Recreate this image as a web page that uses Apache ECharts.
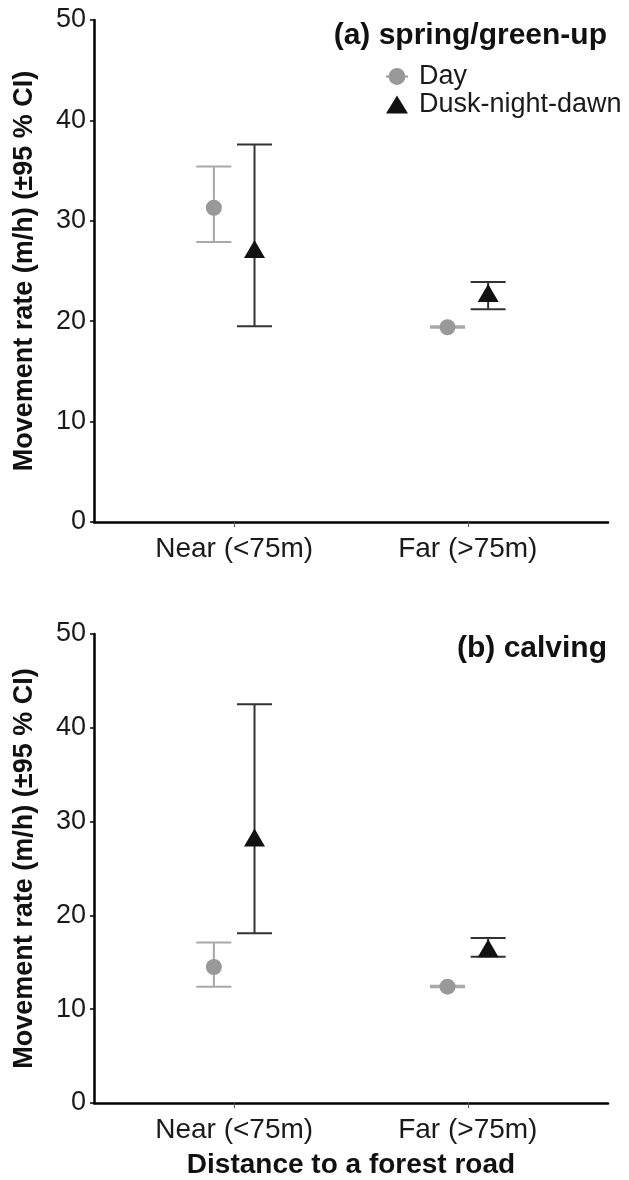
<!DOCTYPE html>
<html>
<head>
<meta charset="utf-8">
<script src="https://cdn.jsdelivr.net/npm/echarts@6/dist/echarts.min.js"></script>
<style>
  html, body { margin: 0; padding: 0; background: #fff; }
  #chart { width: 629px; height: 1180px; }
</style>
</head>
<body>
<div id="chart"></div>
<script>
const categories = ['Near (<75m)', 'Far (>75m)'];
const yTicks = [0, 10, 20, 30, 40, 50];

// (a) spring/green-up
const springDayMean = [31.3, 19.4];
const springDayLow = [27.9, 19.35];
const springDayHigh = [35.4, 19.5];
const springDuskMean = [27.2, 22.8];
const springDuskLow = [19.5, 21.2];
const springDuskHigh = [37.6, 23.9];

// (b) calving
const calvingDayMean = [14.5, 12.4];
const calvingDayLow = [12.4, 12.35];
const calvingDayHigh = [17.1, 12.5];
const calvingDuskMean = [28.3, 16.5];
const calvingDuskLow = [18.1, 15.6];
const calvingDuskHigh = [42.5, 17.6];

const FONT = 'Liberation Sans, Arial, sans-serif';
const DODGE = 0.087;
const dayColor = '#999999';
const dayBarColor = '#a8a8a8';
const duskColor = '#111111';
const duskBarColor = '#333333';

const chart = echarts.init(document.getElementById('chart'));

function errorBars(axis, offset, low, high, color) {
  return {
    type: 'custom',
    xAxisIndex: axis,
    yAxisIndex: axis,
    silent: true,
    z: 1,
    data: low.map((l, i) => [i + 1 + offset, l, high[i]]),
    encode: { x: 0, y: [1, 2] },
    renderItem: (params, api) => {
      const x = api.value(0);
      const lo = api.coord([x, api.value(1)]);
      const hi = api.coord([x, api.value(2)]);
      const half = 17.5;
      const style = { stroke: color, lineWidth: 2 };
      return {
        type: 'group',
        children: [
          { type: 'line', shape: { x1: lo[0], y1: lo[1], x2: hi[0], y2: hi[1] }, style },
          { type: 'line', shape: { x1: lo[0] - half, y1: lo[1], x2: lo[0] + half, y2: lo[1] }, style },
          { type: 'line', shape: { x1: hi[0] - half, y1: hi[1], x2: hi[0] + half, y2: hi[1] }, style },
        ],
      };
    },
  };
}

function points(name, axis, offset, means, symbol, size, color) {
  return {
    name,
    type: 'scatter',
    xAxisIndex: axis,
    yAxisIndex: axis,
    symbol,
    symbolSize: size,
    z: 3,
    itemStyle: { color, opacity: 1 },
    data: means.map((m, i) => [i + 1 + offset, m]),
  };
}

function xAxis(grid, withName) {
  return {
    type: 'value',
    gridIndex: grid,
    min: 0.4,
    max: 2.6,
    splitLine: { show: false },
    axisLine: { lineStyle: { color: '#000', width: 2.5 } },
    axisTick: { customValues: [1, 2], length: 5, lineStyle: { color: '#555', width: 1 } },
    axisLabel: {
      customValues: [1, 2],
      formatter: (v) => categories[Math.round(v) - 1],
      fontSize: 28,
      fontFamily: FONT,
      color: '#1a1a1a',
      margin: 13,
    },
    name: withName ? 'Distance to a forest road' : '',
    nameLocation: 'middle',
    nameGap: 48,
    nameTextStyle: { fontSize: 28, fontWeight: 'bold', fontFamily: FONT, color: '#111' },
  };
}

function yAxis(grid) {
  return {
    type: 'value',
    gridIndex: grid,
    min: yTicks[0],
    max: yTicks[yTicks.length - 1],
    interval: 10,
    splitLine: { show: false },
    axisLine: { show: true, lineStyle: { color: '#000', width: 2.5 } },
    axisTick: { show: true, length: 4, lineStyle: { color: '#000', width: 1.5 } },
    axisLabel: { fontSize: 27, fontFamily: FONT, color: '#1a1a1a', margin: 8 },
    name: 'Movement rate (m/h) (\u00b195 % CI)',
    nameLocation: 'middle',
    nameGap: 56,
    nameTextStyle: { fontSize: 27, fontWeight: 'bold', fontFamily: FONT, color: '#111' },
  };
}

const dayIcon = 'path://M0,7.5 H21 V9.5 H0 Z M10.5,0.5 A8,8 0 1,1 10.49,0.5 Z';

chart.setOption({
  backgroundColor: '#ffffff',
  animation: false,
  title: [
    { text: '(a) spring/green-up', right: 22, top: 21, padding: 0,
      textStyle: { fontSize: 30, fontWeight: 'bold', fontFamily: FONT, color: '#111' } },
    { text: '(b) calving', right: 22, top: 634, padding: 0,
      textStyle: { fontSize: 30, fontWeight: 'bold', fontFamily: FONT, color: '#111' } },
  ],
  legend: {
    orient: 'vertical',
    left: 386,
    top: 63,
    padding: 0,
    itemGap: 1,
    itemWidth: 22,
    itemHeight: 18,
    textStyle: { fontSize: 27, fontFamily: FONT, color: '#1a1a1a', padding: [0, 0, 0, 6] },
    data: [
      { name: 'Day', icon: dayIcon, itemStyle: { color: dayColor } },
      { name: 'Dusk-night-dawn', icon: 'triangle', itemStyle: { color: duskColor } },
    ],
  },
  grid: [
    { left: 94, right: 21, top: 20, height: 502 },
    { left: 94, right: 21, top: 634, height: 470 },
  ],
  xAxis: [xAxis(0, false), xAxis(1, true)],
  yAxis: [yAxis(0), yAxis(1)],
  series: [
    errorBars(0, -DODGE, springDayLow, springDayHigh, dayBarColor),
    errorBars(0, DODGE, springDuskLow, springDuskHigh, duskBarColor),
    points('Day', 0, -DODGE, springDayMean, 'circle', 16, dayColor),
    points('Dusk-night-dawn', 0, DODGE, springDuskMean, 'triangle', [21, 18], duskColor),
    errorBars(1, -DODGE, calvingDayLow, calvingDayHigh, dayBarColor),
    errorBars(1, DODGE, calvingDuskLow, calvingDuskHigh, duskBarColor),
    points('Day', 1, -DODGE, calvingDayMean, 'circle', 16, dayColor),
    points('Dusk-night-dawn', 1, DODGE, calvingDuskMean, 'triangle', [21, 18], duskColor),
  ],
});
</script>
</body>
</html>
